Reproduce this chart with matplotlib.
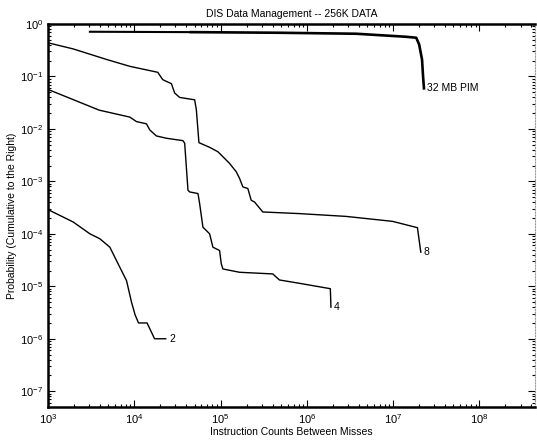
import numpy as np
import matplotlib
matplotlib.use('Agg')
import matplotlib.pyplot as plt

plt.rcParams['font.family'] = ['Liberation Sans', 'DejaVu Sans']
plt.rcParams['mathtext.fontset'] = 'custom'
plt.rcParams['mathtext.rm'] = 'Liberation Sans'
plt.rcParams['mathtext.it'] = 'Liberation Sans'

# Data
pim_x = [3060, 43800, 4.8e5, 3.73e6, 1.41e7, 1.85e7, 2.0e7, 2.16e7, 2.22e7, 2.28e7]
pim_y = [0.712, 0.70, 0.681, 0.652, 0.571, 0.547, 0.407, 0.21, 0.10, 0.056]

c8_x = [1000, 1945, 4810, 8870, 18700, 21350, 23570, 26920, 29380, 33570,
        50040, 52380, 56110, 74640, 93060, 106400, 127100, 152000, 165900,
        181100, 206900, 226400, 247200, 308300, 819500, 2.84e6, 9.82e6,
        1.91e7, 2.09e7]
c8_y = [0.438, 0.336, 0.210, 0.156, 0.120, 0.087, 0.0805, 0.0728, 0.0483,
        0.0398, 0.0359, 0.0231, 0.00547, 0.00446, 0.00367, 0.00295, 0.0022,
        0.00152, 0.00114, 7.85e-4, 7.31e-4, 4.36e-4, 4.05e-4, 2.61e-4,
        2.43e-4, 2.15e-4, 1.73e-4, 1.31e-4, 4.46e-5]

c4_x = [1000, 3917, 8870, 10600, 13840, 15110, 18060, 23570, 36650, 38370,
        41880, 43830, 54690, 57180, 62400, 74640, 81470, 97330, 101900,
        106400, 165900, 402500, 480800, 819500, 1.87e6, 1.9e6]
c4_y = [0.0566, 0.0228, 0.0168, 0.0138, 0.0125, 0.00957, 0.00734, 0.00664,
        0.00597, 0.00532, 6.78e-4, 6.29e-4, 5.86e-4, 3.77e-4, 1.34e-4,
        1.0e-4, 5.56e-5, 4.81e-5, 2.67e-5, 2.14e-5, 1.85e-5, 1.72e-5,
        1.32e-5, 1.14e-5, 9e-6, 4e-6]

c2_x = [1000, 1960, 3060, 3990, 5210, 6500, 8130, 9280, 10210, 11190,
        14060, 17170, 23130]
c2_y = [2.9e-4, 1.68e-4, 1.0e-4, 8.05e-5, 5.56e-5, 2.67e-5, 1.28e-5, 5e-6,
        2.86e-6, 2e-6, 2e-6, 1e-6, 1e-6]

fig = plt.figure(figsize=(5.37, 4.40), dpi=100)
ax = fig.add_axes([48/537, 33/440, 487/537, 383/440])

# PIM line is thin on the left and gets heavier to the right
ax.plot(pim_x[:2], pim_y[:2], color='black', lw=1.5)
ax.plot(pim_x[1:], pim_y[1:], color='black', lw=1.9, solid_capstyle='butt')
ax.plot(c8_x, c8_y, color='black', lw=1.0)
ax.plot(c4_x, c4_y, color='black', lw=1.0)
ax.plot(c2_x, c2_y, color='black', lw=1.0)

fs = 7.5
ax.annotate('32 MB PIM', (pim_x[-1], pim_y[-1]), xytext=(2, 1),
            textcoords='offset points', fontsize=fs, va='center')
ax.annotate('8', (c8_x[-1], c8_y[-1]), xytext=(2, 0),
            textcoords='offset points', fontsize=fs, va='center')
ax.annotate('4', (c4_x[-1], c4_y[-1]), xytext=(2, 0),
            textcoords='offset points', fontsize=fs, va='center')
ax.annotate('2', (c2_x[-1], c2_y[-1]), xytext=(3, 0),
            textcoords='offset points', fontsize=fs, va='center')

ax.set_xscale('log')
ax.set_yscale('log')
ax.set_xlim(1e3, 4.4e8)
ax.set_ylim(5e-8, 1)
ax.set_xticks([1e3, 1e4, 1e5, 1e6, 1e7, 1e8])
ax.set_yticks([1e-7, 1e-6, 1e-5, 1e-4, 1e-3, 1e-2, 1e-1, 1])

ax.tick_params(which='both', direction='in', top=True, right=True,
               labelsize=8, width=0.8)
ax.tick_params(which='major', length=5)
ax.tick_params(which='minor', length=2.5)

for s in ['left', 'bottom', 'top']:
    ax.spines[s].set_linewidth(1.8)
ax.spines['right'].set_linestyle(':')
ax.spines['right'].set_color('0.6')
ax.spines['right'].set_linewidth(0.8)

ax.set_title('DIS Data Management -- 256K DATA', fontsize=fs, pad=5)
ax.set_xlabel('Instruction Counts Between Misses', fontsize=fs, labelpad=1)
ax.set_ylabel('Probability (Cumulative to the Right)', fontsize=fs, labelpad=2)

fig.savefig('out.png', dpi=100)
